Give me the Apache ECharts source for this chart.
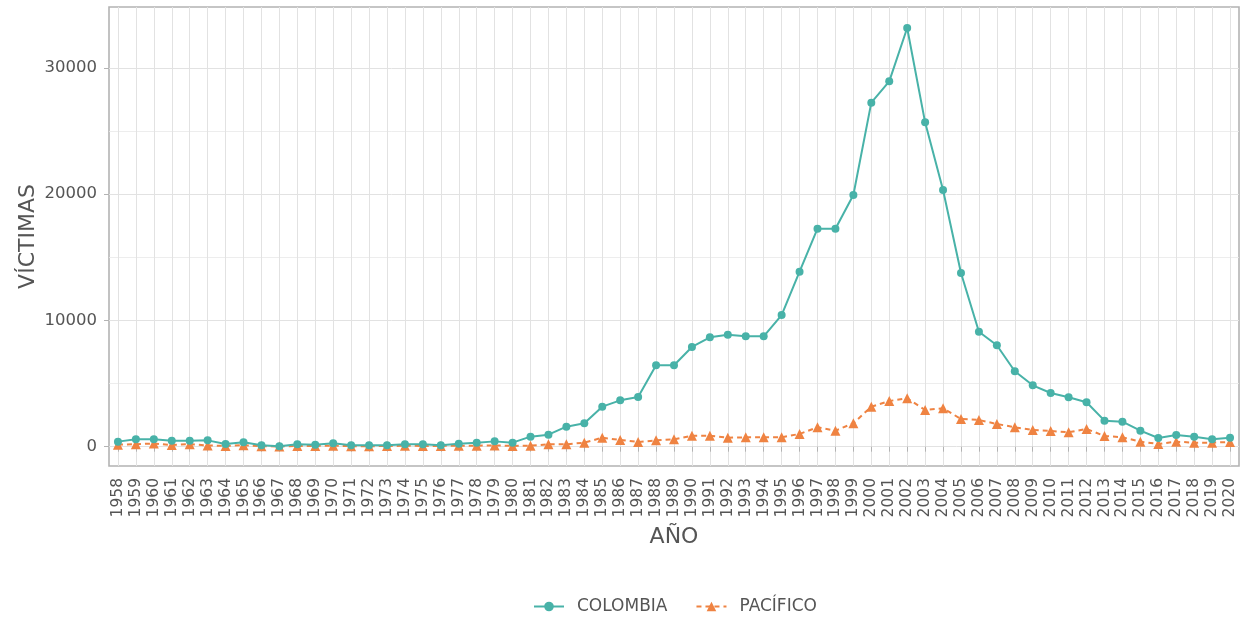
<!DOCTYPE html>
<html>
<head>
<meta charset="utf-8">
<script src="https://cdn.jsdelivr.net/npm/echarts@6/dist/echarts.min.js"></script>
<style>
html,body{margin:0;padding:0;background:#fff;}
#chart{width:1247px;height:618px;}
</style>
</head>
<body>
<div id="chart"></div>
<script>
const years = ['1958','1959','1960','1961','1962','1963','1964','1965','1966','1967','1968','1969','1970','1971','1972','1973','1974','1975','1976','1977','1978','1979','1980','1981','1982','1983','1984','1985','1986','1987','1988','1989','1990','1991','1992','1993','1994','1995','1996','1997','1998','1999','2000','2001','2002','2003','2004','2005','2006','2007','2008','2009','2010','2011','2012','2013','2014','2015','2016','2017','2018','2019','2020'];
const colombia = [400,586,586,475,475,500,214,345,106,30,185,160,265,106,106,106,185,185,106,238,316,420,317,
  792,950,1584,1850,3167,3670,3935,6445,6445,7894,8662,8869,8740,8740,10420,
  13860,17260,17260,19930,27240,28930,33150,25680,20320,13750,9105,
  8028,5970,4860,4250,3910,3515,2060,1980,1267,689,926,792,586,713];
const pacifico = [150,200,250,130,200,100,60,120,30,20,60,60,80,40,40,50,70,60,60,80,80,100,60,
  80,190,190,317,713,530,370,500,580,870,870,713,740,740,744,
  1010,1536,1267,1853,3167,3618,3832,2906,3040,2193,2114,
  1797,1536,1322,1243,1140,1400,847,744,396,214,396,317,317,372];
const yTicks = [0,10000,20000,30000];
const seriesNames = ['COLOMBIA','PACÍFICO'];

const FONT = 'DejaVu Sans';
const TXT = '#555555';
const chart = echarts.init(document.getElementById('chart'));
chart.setOption({
  animation: false,
  backgroundColor: '#ffffff',
  grid: {left: 109, top: 7, width: 1130, height: 459, show: true, borderColor: '#b3b3b3', borderWidth: 1.6, backgroundColor: 'transparent', containLabel: false},
  legend: {
    data: seriesNames, left: 528, top: 593, itemWidth: 30, itemHeight: 12, itemGap: 28,
    textStyle: {fontFamily: FONT, fontSize: 17, color: TXT, padding: [0,0,0,8]}
  },
  xAxis: {
    type: 'category', data: years, boundaryGap: true,
    name: 'AÑO', nameLocation: 'middle', nameGap: 60,
    nameTextStyle: {fontFamily: FONT, fontSize: 22, color: TXT},
    axisLine: {show: false},
    axisTick: {show: true, alignWithLabel: true, length: 5, lineStyle: {color: '#b3b3b3', width: 1}},
    axisLabel: {rotate: 90, interval: 0, margin: 12, fontFamily: FONT, fontSize: 15.5, color: TXT},
    splitLine: {show: true, alignWithLabel: true, interval: 0, lineStyle: {color: '#e2e2e2', width: 1}}
  },
  yAxis: {
    type: 'value', min: -1530, max: 34815,
    name: 'VÍCTIMAS', nameLocation: 'middle', nameGap: 70, nameMoveOverlap: false,
    nameTextStyle: {fontFamily: FONT, fontSize: 22, color: TXT},
    axisLine: {show: false},
    axisTick: {show: true, length: 5, lineStyle: {color: '#b3b3b3', width: 1}, customValues: yTicks},
    axisLabel: {margin: 12, fontFamily: FONT, fontSize: 16.5, color: TXT,
      formatter: function (v) { return yTicks.indexOf(v) >= 0 ? String(v) : ''; }},
    splitLine: {show: true, lineStyle: {color: '#e2e2e2', width: 1}},
    minorTick: {show: false, splitNumber: 2},
    minorSplitLine: {show: true, lineStyle: {color: '#e8e8e8', width: 0.8}}
  },
  series: [
    {
      name: seriesNames[0], type: 'line', data: colombia, color: '#48b2a8',
      symbol: 'circle', symbolSize: 8, showAllSymbol: true,
      lineStyle: {width: 2, color: '#48b2a8'}, itemStyle: {color: '#48b2a8'}, z: 3
    },
    {
      name: seriesNames[1], type: 'line', data: pacifico, color: '#ef8342',
      symbol: 'triangle', symbolSize: 10, showAllSymbol: true,
      lineStyle: {width: 2, type: [5,4], color: '#ef8342'}, itemStyle: {color: '#ef8342'}, z: 2
    }
  ]
});
</script>
</body>
</html>
